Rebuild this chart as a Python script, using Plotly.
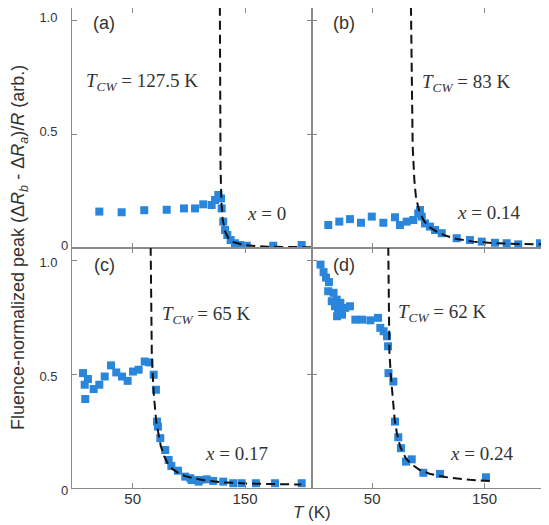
import plotly.graph_objects as go

# ---------------- data ----------------
# panel (a) x = 0
Ta = [20.3, 40.2, 60.3, 80.3, 95.7, 105.5, 112.8, 120.3, 123.3, 126.2, 128.6, 129.2, 130.6,
      132.2, 134.2, 137.2, 141.0, 145.5, 151.5, 175.1, 200.4]
Va = [0.160, 0.157, 0.166, 0.168, 0.174, 0.174, 0.192, 0.189, 0.211, 0.233, 0.218, 0.174, 0.116,
      0.079, 0.057, 0.035, 0.021, 0.013, 0.010, 0.010, 0.013]
fit_Ta = [127.6, 127.8, 128.2, 129.0, 130.0, 132.0, 135.0, 140.0, 150.0, 170.0, 209.0]
fit_Va = [1.06, 0.60, 0.35, 0.20, 0.13, 0.075, 0.045, 0.025, 0.012, 0.006, 0.003]

# panel (b) x = 0.14
Tb = [10.9, 20.7, 30.2, 40.0, 49.6, 59.9, 70.3, 74.7, 80.7, 86.6, 91.0, 92.5, 94.1, 97.0,
      101.4, 105.9, 111.9, 125.2, 137.0, 147.5, 159.3, 169.7, 180.0, 199.4]
Vb = [0.101, 0.116, 0.127, 0.111, 0.138, 0.111, 0.135, 0.101, 0.116, 0.123, 0.152, 0.167, 0.138, 0.108,
      0.094, 0.079, 0.065, 0.043, 0.035, 0.028, 0.023, 0.021, 0.016, 0.021]
fit_Tb = [84.5, 85.0, 86.0, 87.5, 89.0, 92.0, 96.0, 100.0, 108.0, 115.0, 125.0, 140.0, 160.0, 180.0, 206.0]
fit_Vb = [1.06, 0.70, 0.45, 0.30, 0.22, 0.16, 0.12, 0.095, 0.07, 0.055, 0.04, 0.028, 0.021, 0.018, 0.016]

# panel (c) x = 0.17
Tc = [5.8, 7.3, 7.8, 10.2, 15.3, 20.3, 25.1, 30.7, 35.4, 40.5, 45.5, 50.3, 55.3, 60.7, 64.8,
      68.7, 70.7, 71.6, 72.5, 74.6, 79.0, 82.0, 84.4, 90.3, 96.8, 101.3, 102.5, 108.7, 109.3,
      115.9, 121.7, 130.6, 139.5, 147.0, 159.7, 176.7, 200.4]
Vc = [0.505, 0.454, 0.391, 0.479, 0.435, 0.454, 0.490, 0.539, 0.508, 0.490, 0.471, 0.512, 0.520, 0.556, 0.552,
      0.498, 0.432, 0.292, 0.270, 0.219, 0.167, 0.123, 0.097, 0.076, 0.050, 0.043, 0.035, 0.028, 0.035,
      0.038, 0.031, 0.028, 0.021, 0.021, 0.021, 0.021, 0.021]
fit_Tc = [66.0, 66.3, 67.0, 67.8, 69.0, 71.0, 73.0, 75.0, 78.0, 81.0, 85.0, 90.0, 97.0, 105.0,
          115.0, 130.0, 150.0, 175.0, 200.0]
fit_Vc = [1.06, 0.80, 0.60, 0.50, 0.40, 0.29, 0.23, 0.185, 0.14, 0.11, 0.085, 0.068, 0.052, 0.042,
          0.033, 0.025, 0.020, 0.017, 0.015]

# panel (d) x = 0.24
Td = [4.0, 6.7, 8.9, 11.5, 10.8, 15.6, 14.0, 18.4, 16.9, 21.6, 26.1, 30.2, 19.6, 18.7, 23.1,
      35.0, 40.9, 48.3, 55.2, 57.2, 60.2, 63.2, 64.1, 64.5, 68.8, 70.3, 73.2, 75.6, 80.1, 85.2,
      95.5, 110.3, 151.3]
Vd = [0.982, 0.949, 0.925, 0.905, 0.865, 0.858, 0.821, 0.828, 0.799, 0.814, 0.792, 0.799, 0.784, 0.755, 0.762,
      0.740, 0.740, 0.737, 0.748, 0.704, 0.689, 0.667, 0.623, 0.505, 0.468, 0.292, 0.223, 0.175, 0.116, 0.126,
      0.067, 0.062, 0.047]
fit_Td = [64.3, 64.6, 65.3, 66.5, 68.0, 70.0, 72.0, 75.0, 80.0, 85.0, 92.0, 101.0, 115.0, 137.0, 156.0]
fit_Vd = [1.06, 0.80, 0.60, 0.50, 0.40, 0.30, 0.24, 0.18, 0.13, 0.105, 0.08, 0.063, 0.048, 0.036, 0.030]

panel_labels = ["(a)", "(b)", "(c)", "(d)"]
tcw_labels = ["127.5 K", "83 K", "65 K", "62 K"]
x_labels = ["0", "0.14", "0.17", "0.24"]
y_tickvals = [0, 0.5, 1.0]
y_ticktext = ["0", "0.5\u00a0\u00a0\u00a0", "1.0\u00a0\u00a0\u00a0"]
x_tickvals = [50, 150]
x_ticktext = ["50", "150"]

# ---------------- layout geometry ----------------
W, H = 549, 525
OFF = 8  # page body margin
L, R, T, B = 64, 9, 0, 45
PW = W - L - R
PH = H - T - B
xsplit = (312 - OFF - L) / PW


def px(xp):  # page pixel -> paper
    return (xp - OFF - L) / PW


def py(yp):
    return (H - B - (yp - OFF)) / PH


BLUE = "#2a86db"
GRAY = "#8a8a8a"
TXT = "#333333"

fig = go.Figure()
series = [(Ta, Va, fit_Ta, fit_Va), (Tb, Vb, fit_Tb, fit_Vb), (Tc, Vc, fit_Tc, fit_Vc), (Td, Vd, fit_Td, fit_Vd)]
for i, (tx, vy, ftx, fvy) in enumerate(series):
    xa = "x" if i == 0 else f"x{i+1}"
    ya = "y" if i == 0 else f"y{i+1}"
    fig.add_trace(go.Scatter(x=tx, y=vy, mode="markers", xaxis=xa, yaxis=ya,
                             marker=dict(symbol="square", size=8, color=BLUE, line=dict(width=0)),
                             showlegend=False, cliponaxis=True))
    fig.add_trace(go.Scatter(x=ftx, y=fvy, mode="lines", xaxis=xa, yaxis=ya,
                             line=dict(color="#111111", width=2, dash="9px,5px"),
                             showlegend=False, cliponaxis=True))

xranges = [[-4.0, 209.6], [-3.6, 206.5], [-4.0, 209.6], [-3.6, 206.5]]
xdomains = [[0, xsplit], [xsplit, 1], [0, xsplit], [xsplit, 1]]
ydomains = [[0.5, 1], [0.5, 1], [0, 0.5], [0, 0.5]]
yshift = [-3, -3, 2, 2]

for i in range(4):
    suffix = "" if i == 0 else str(i + 1)
    common = dict(showline=True, linecolor=GRAY, linewidth=1.2, mirror="allticks",
                  ticks="inside", ticklen=5, tickwidth=1, tickcolor=GRAY,
                  showgrid=False, zeroline=False)
    fig.layout["xaxis" + suffix] = dict(
        common, domain=xdomains[i], range=xranges[i], anchor="y" + suffix,
        tickvals=x_tickvals, ticktext=x_ticktext, showticklabels=(i >= 2),
        ticklabelstandoff=-3,
        tickfont=dict(family="Liberation Sans, Arial", size=15, color=TXT))
    fig.layout["yaxis" + suffix] = dict(
        common, domain=ydomains[i], range=[0, 1.055], anchor="x" + suffix,
        tickvals=y_tickvals, ticktext=y_ticktext, showticklabels=(i in (0, 2)),
        ticklabelshift=yshift[i],
        tickfont=dict(family="Liberation Sans, Arial", size=13, color=TXT))

annotations = []
# panel labels
lab_pos = [(104, 23), (344, 23), (104, 265), (344, 265)]
for lab, (xp, yp) in zip(panel_labels, lab_pos):
    annotations.append(dict(text=lab, x=px(xp), y=py(yp), xref="paper", yref="paper",
                            showarrow=False, xanchor="center", yanchor="middle",
                            font=dict(family="Liberation Sans, Arial", size=18, color=TXT)))
# T_CW labels
tcw_pos = [(84, 82), (420, 83), (160, 315), (396, 313)]
for lab, (xp, yp) in zip(tcw_labels, tcw_pos):
    annotations.append(dict(text="<i>T</i><sub><i>CW</i></sub> = " + lab, x=px(xp), y=py(yp),
                            xref="paper", yref="paper", showarrow=False,
                            xanchor="left", yanchor="middle",
                            font=dict(family="Liberation Serif, Times New Roman", size=19, color=TXT)))
# x = ... labels
xl_pos = [(245, 213), (455, 212), (203, 453), (448, 453)]
for lab, (xp, yp) in zip(x_labels, xl_pos):
    annotations.append(dict(text="<i>x</i> = " + lab, x=px(xp), y=py(yp),
                            xref="paper", yref="paper", showarrow=False,
                            xanchor="left", yanchor="middle",
                            font=dict(family="Liberation Serif, Times New Roman", size=19, color=TXT)))
# axis titles
annotations.append(dict(text="<i>T</i> (K)", x=px(312), y=py(512), xref="paper", yref="paper",
                        showarrow=False, xanchor="center", yanchor="middle",
                        font=dict(family="Liberation Sans, Arial", size=17, color=TXT)))
annotations.append(dict(text="Fluence-normalized peak (Δ<i>R</i><sub><i>b</i></sub> - Δ<i>R</i><sub><i>a</i></sub>)/<i>R</i> (arb.)",
                        x=px(19), y=py(248), xref="paper", yref="paper", textangle=-90,
                        showarrow=False, xanchor="center", yanchor="middle",
                        font=dict(family="Liberation Sans, Arial", size=18, color=TXT)))

fig.update_layout(width=W, height=H, margin=dict(l=L, r=R, t=T, b=B),
                  paper_bgcolor="white", plot_bgcolor="white", annotations=annotations)

fig.write_html("out.html")
